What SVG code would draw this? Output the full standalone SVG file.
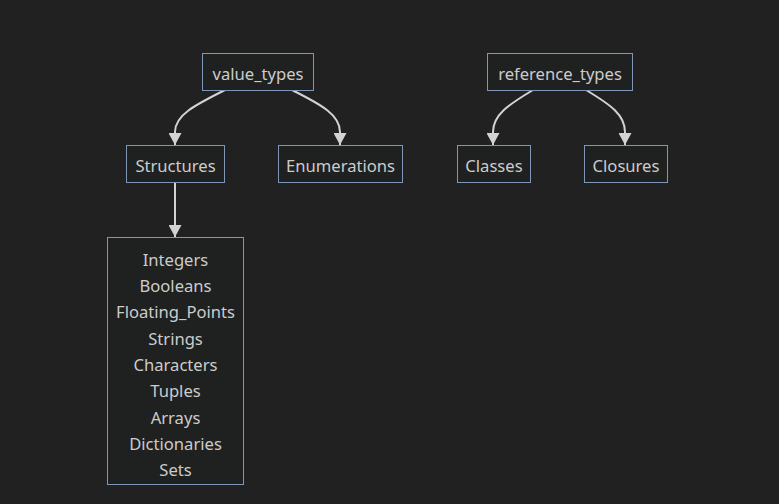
<svg xmlns="http://www.w3.org/2000/svg" width="779" height="504" viewBox="0 0 779 504">
<style>
.node rect{fill:#1f2020;stroke:#7f96b8;stroke-width:1;}
.node text{fill:#ccc;font-family:"Noto Sans","Open Sans","DejaVu Sans",sans-serif;font-size:16.6px;text-anchor:middle;dominant-baseline:central;}
.edge{fill:none;stroke:#d3d3d3;stroke-width:2;}
</style>
<defs>
<marker id="arr" viewBox="0 0 12 13" refX="12" refY="6.5" markerWidth="12" markerHeight="13" markerUnits="userSpaceOnUse" orient="auto">
<path d="M0,0 L12,6.5 L0,13 z" fill="#d3d3d3"/>
</marker>
</defs>
<rect width="779" height="504" fill="#212121"/>
<g id="edges">
<path class="edge" d="M225,90 C195,105 175,115 175,132 L175,145" marker-end="url(#arr)"/>
<path class="edge" d="M292,90 C322,105 340,115 340,132 L340,145" marker-end="url(#arr)"/>
<path class="edge" d="M533,90 C508,105 493,115 493,132 L493,145" marker-end="url(#arr)"/>
<path class="edge" d="M586,90 C611,105 625,115 625,132 L625,145" marker-end="url(#arr)"/>
<path class="edge" d="M175,182 L175,237" marker-end="url(#arr)"/>
</g>
<g id="value_types" class="node"><rect x="202.5" y="53.5" width="111" height="37"/><text x="258" y="73.5">value_types</text></g>
<g id="reference_types" class="node"><rect x="487.5" y="53.5" width="145" height="37"/><text x="560" y="73.5">reference_types</text></g>
<g id="Structures" class="node"><rect x="126.5" y="145.5" width="98" height="37"/><text x="175.5" y="165.5">Structures</text></g>
<g id="Enumerations" class="node"><rect x="278.5" y="145.5" width="124" height="37"/><text x="340.5" y="165.5">Enumerations</text></g>
<g id="Classes" class="node"><rect x="457.5" y="145.5" width="73" height="37"/><text x="494" y="165.5">Classes</text></g>
<g id="Closures" class="node"><rect x="584.5" y="145.5" width="83" height="37"/><text x="626" y="165.5">Closures</text></g>
<g id="Types" class="node"><rect x="107.5" y="237.5" width="136" height="247"/>
<text x="175.5" y="259">Integers</text>
<text x="175.5" y="285">Booleans</text>
<text x="175.5" y="311.5">Floating_Points</text>
<text x="175.5" y="338">Strings</text>
<text x="175.5" y="364">Characters</text>
<text x="175.5" y="390.5">Tuples</text>
<text x="175.5" y="417">Arrays</text>
<text x="175.5" y="443">Dictionaries</text>
<text x="175.5" y="469.5">Sets</text>
</g>
</svg>
